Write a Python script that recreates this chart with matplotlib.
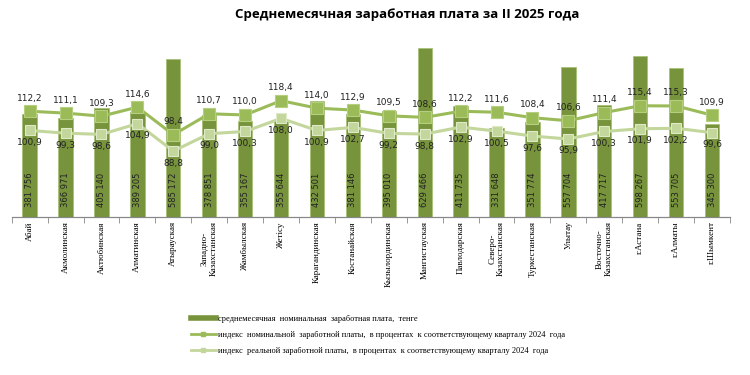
import matplotlib.pyplot as plt
from matplotlib.lines import Line2D

regions = ["Абай", "Акмолинская", "Актюбинская", "Алматинская", "Атырауская",
           "Западно-\nКазахстанская", "Жамбылская", "Жетісу", "Карагандинская",
           "Костанайская", "Кызылординская", "Мангистауская", "Павлодарская",
           "Северо-\nКазахстанская", "Туркестанская", "Улытау",
           "Восточно-\nКазахстанская", "г.Астана", "г.Алматы", "г.Шымкент"]
wage = [381756, 366971, 405140, 389205, 585172, 378851, 355167, 355644, 432501,
        381146, 395010, 629466, 411735, 331648, 351774, 557704, 417717, 598267,
        553705, 345300]
nominal_idx = [112.2, 111.1, 109.3, 114.6, 98.4, 110.7, 110.0, 118.4, 114.0, 112.9,
               109.5, 108.6, 112.2, 111.6, 108.4, 106.6, 111.4, 115.4, 115.3, 109.9]
real_idx = [100.9, 99.3, 98.6, 104.9, 88.8, 99.0, 100.3, 108.0, 100.9, 102.7,
            99.2, 98.8, 102.9, 100.5, 97.6, 95.9, 100.3, 101.9, 102.2, 99.6]

bar_color = "#77933C"
nom_color = "#9BBB59"
real_color = "#C3D69B"
serif = "Liberation Serif"

fig = plt.figure(figsize=(7.5, 3.75), dpi=100)
ax = fig.add_axes([0.0156, 0.421, 0.9577, 0.454])
ax2 = ax.twinx()

x = list(range(len(regions)))
ax.bar(x, wage, width=0.4, color=bar_color, edgecolor="#a9c27a", linewidth=0.6, zorder=1)
ax.set_ylim(0, 632000)
ax.set_xlim(-0.5, len(regions) - 0.5)

# wage labels sit inside the bars near the base
for xi, w in zip(x, wage):
    s = f"{w:,}".replace(",", " ")
    ax.annotate(s, (xi, 0), xytext=(0, 27), textcoords="offset pixels",
                rotation=90, ha="center", va="center", fontsize=6, color="#222222")

ax2.plot(x, nominal_idx, color=nom_color, lw=2.2, marker="s", markersize=8,
         markerfacecolor=nom_color, markeredgecolor="#b5cf7e", markeredgewidth=0.8, zorder=3)
ax2.plot(x, real_idx, color=real_color, lw=2.2, marker="s", markersize=7,
         markerfacecolor=real_color, markeredgecolor="#dfe9c8", markeredgewidth=0.8, zorder=3)
ax2.set_ylim(50, 150)

for xi, v in zip(x, nominal_idx):
    ax2.annotate(f"{v:.1f}".replace(".", ","), (xi, v), xytext=(0, 13),
                 textcoords="offset pixels", ha="center", va="center",
                 fontsize=6.5, color="#222222")
for xi, v in zip(x, real_idx):
    ax2.annotate(f"{v:.1f}".replace(".", ","), (xi, v), xytext=(0, -12),
                 textcoords="offset pixels", ha="center", va="center",
                 fontsize=6.5, color="#222222")

ax.set_xticks(x)
ax.set_xticklabels(regions, rotation=90, fontsize=6.5, family=serif, va="top",
                   ha="center", linespacing=1.1)
ax.set_xticks([i - 0.5 for i in range(len(regions) + 1)], minor=True)
ax.tick_params(axis="x", which="major", length=0, pad=3)
ax.tick_params(axis="x", which="minor", length=4, color="#888888")
ax.set_yticks([])
ax2.set_yticks([])
for a in (ax, ax2):
    for side in ("top", "left", "right"):
        a.spines[side].set_visible(False)
    a.spines["bottom"].set_color("#888888")
    a.spines["bottom"].set_linewidth(0.8)

fig.text(0.543, 0.962, "Среднемесячная заработная плата за II 2025 года",
         ha="center", va="center", fontsize=9.5, fontweight="bold", family="Open Sans")

handles = [
    Line2D([0], [0], color=bar_color, lw=4),
    Line2D([0], [0], color=nom_color, lw=2, marker="s", markersize=3),
    Line2D([0], [0], color=real_color, lw=2, marker="s", markersize=3),
]
labels = [
    "среднемесячная  номинальная  заработная плата,  тенге",
    "индекс  номинальной  заработной платы,  в процентах  к соответствующему кварталу 2024  года",
    "индекс  реальной заработной платы,  в процентах  к соответствующему кварталу 2024  года",
]
fig.legend(handles, labels, loc="upper left", bbox_to_anchor=(0.25, 0.168),
           frameon=False, prop={"family": serif, "size": 6}, handlelength=3.0,
           handletextpad=0.3, labelspacing=0.95, borderaxespad=0)

fig.savefig("out.png", dpi=100)
